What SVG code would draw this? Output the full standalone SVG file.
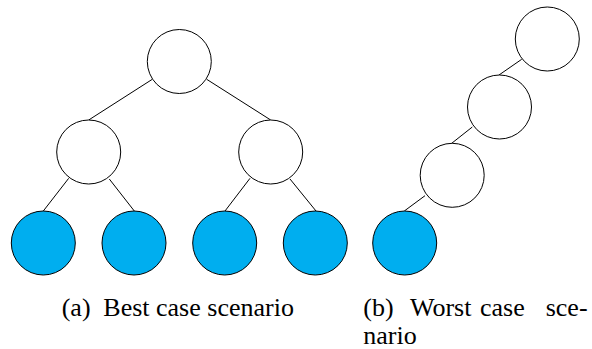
<svg xmlns="http://www.w3.org/2000/svg" width="592" height="349" viewBox="0 0 592 349">
  <style>
    .node { stroke: #000; stroke-width: 1; }
    .inner { fill: #fff; }
    .leaf { fill: #00AEEF; }
    .edge { stroke: #000; stroke-width: 1; fill: none; }
    .cap { font-size: 26px; fill: #000; }
  </style>

  <!-- balanced tree -->
  <g id="edges-a">
    <line class="edge" x1="152.3" y1="79.3" x2="88.7" y2="120"/>
    <line class="edge" x1="206.7" y1="79.3" x2="270.7" y2="120"/>
    <line class="edge" x1="68.7" y1="178.3" x2="43.3" y2="211"/>
    <line class="edge" x1="109.3" y1="179" x2="134.3" y2="211"/>
    <line class="edge" x1="250" y1="178.3" x2="225" y2="211"/>
    <line class="edge" x1="290" y1="179" x2="316" y2="211"/>
  </g>
  <g id="a-root"><circle class="node inner" cx="179.3" cy="61.5" r="32"/></g>
  <g id="a-left"><circle class="node inner" cx="88.7" cy="152" r="32"/></g>
  <g id="a-right"><circle class="node inner" cx="270.7" cy="152" r="32"/></g>
  <g id="a-leaf1"><circle class="node leaf" cx="43.3" cy="243" r="32"/></g>
  <g id="a-leaf2"><circle class="node leaf" cx="134" cy="243" r="32"/></g>
  <g id="a-leaf3"><circle class="node leaf" cx="224.7" cy="243" r="32"/></g>
  <g id="a-leaf4"><circle class="node leaf" cx="315.3" cy="243" r="32"/></g>

  <!-- degenerate chain -->
  <g id="edges-b">
    <line class="edge" x1="521.7" y1="59.3" x2="499" y2="75"/>
    <line class="edge" x1="472.3" y1="127" x2="451.7" y2="143.3"/>
    <line class="edge" x1="425" y1="195.7" x2="404.3" y2="211"/>
  </g>
  <g id="b-n1"><circle class="node inner" cx="547.3" cy="39" r="32"/></g>
  <g id="b-n2"><circle class="node inner" cx="499.5" cy="107" r="32"/></g>
  <g id="b-n3"><circle class="node inner" cx="452.2" cy="175.3" r="32"/></g>
  <g id="b-leaf"><circle class="node leaf" cx="404.7" cy="243" r="32"/></g>

  <!-- captions -->
  <g id="caption-a" font-family="'Liberation Serif', 'DejaVu Serif', serif">
    <text class="cap" x="61.7" y="315.5">(a)</text>
    <text class="cap" x="103.3" y="315.5">Best case scenario</text>
  </g>
  <g id="caption-b" font-family="'Liberation Serif', 'DejaVu Serif', serif">
    <text class="cap" x="363.3" y="315.5">(b)</text>
    <text class="cap" x="410" y="315.5">Worst</text>
    <text class="cap" x="480" y="315.5">case</text>
    <text class="cap" x="545.7" y="315.5">sce-</text>
    <text class="cap" x="363.3" y="343.5">nario</text>
  </g>
</svg>
